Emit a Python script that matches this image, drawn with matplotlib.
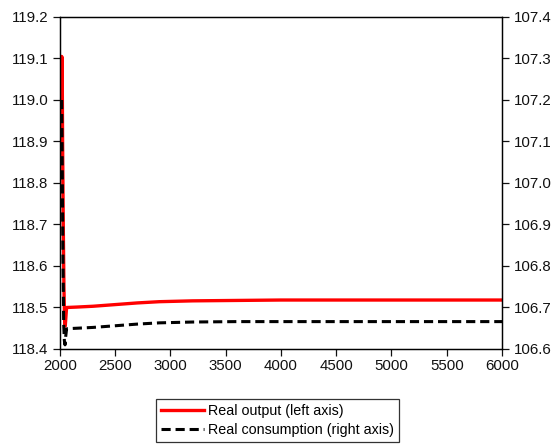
import numpy as np
import matplotlib.pyplot as plt

plt.rcParams['font.family'] = ['Liberation Sans', 'DejaVu Sans']

# simulated periods
t_out = [2012, 2016, 2020, 2024, 2030, 2036, 2042, 2048, 2060, 2150, 2300, 2500, 2700, 2900,
         3200, 3600, 4000, 5000, 6000]
real_output = [118.98, 119.105, 119.10, 118.90, 118.70, 118.55, 118.47, 118.455, 118.50,
               118.501, 118.503, 118.507, 118.511, 118.514, 118.516, 118.517, 118.518,
               118.518, 118.518]

t_cons = [2016, 2022, 2028, 2034, 2040, 2046, 2052, 2060, 2070, 2150, 2300, 2500, 2700,
          2900, 3200, 3600, 4000, 5000, 6000]
real_consumption = [107.20, 107.00, 106.80, 106.66, 106.62, 106.61, 106.63, 106.648, 106.649,
                    106.650, 106.652, 106.656, 106.660, 106.663, 106.665, 106.666, 106.666,
                    106.666, 106.666]

fig = plt.figure(figsize=(5.55, 4.46), dpi=100)
ax = fig.add_axes([0.108, 0.2175, 0.7965, 0.7444])
ax2 = ax.twinx()

l1, = ax.plot(t_out, real_output, color='red', lw=2.4, label='Real output (left axis)')
l2, = ax2.plot(t_cons, real_consumption, color='black', lw=2.2, ls=(0, (3, 1.6)),
               label='Real consumption (right axis)')

ax.set_xlim(2000, 6000)
ax.set_ylim(118.4, 119.2)
ax2.set_ylim(106.6, 107.4)
ax.set_xticks(np.arange(2000, 6001, 500))
ax.set_yticks(np.arange(118.4, 119.21, 0.1))
ax2.set_yticks(np.arange(106.6, 107.41, 0.1))
ax.yaxis.set_major_formatter(plt.FormatStrFormatter('%.1f'))
ax2.yaxis.set_major_formatter(plt.FormatStrFormatter('%.1f'))

for a in (ax, ax2):
    a.tick_params(direction='out', length=5, width=0.9, labelsize=10.8, colors='#111111')
    for s in a.spines.values():
        s.set_linewidth(0.9)
ax.tick_params(axis='x', pad=2)

leg = fig.legend(handles=[l1, l2], loc='center', bbox_to_anchor=(0.5, 0.058),
                 fontsize=10.3, frameon=True, fancybox=False, edgecolor='black',
                 handlelength=3.0, handletextpad=0.25, borderpad=0.35, labelspacing=0.35,
                 borderaxespad=0)
leg.get_frame().set_linewidth(0.9)

fig.savefig('out.png', dpi=100)
